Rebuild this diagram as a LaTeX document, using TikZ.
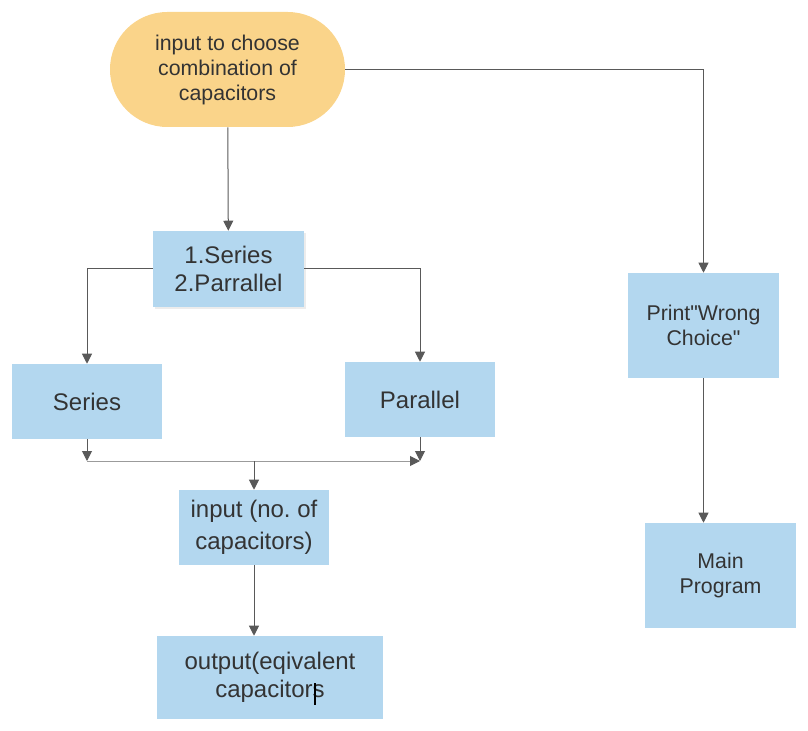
\documentclass[tikz,border=0pt]{standalone}
\usepackage{fontspec}
\setmainfont{Liberation Sans}
\usepackage{xcolor}
\usepackage{tikz}
\usetikzlibrary{arrows.meta,shadows}
\frenchspacing

\definecolor{boxblue}{HTML}{B3D7EF}
\definecolor{startorange}{HTML}{FAD48A}
\definecolor{textgray}{HTML}{333333}
\definecolor{linegray}{HTML}{595959}

\begin{document}
\begin{tikzpicture}[
    x=0.75pt, y=-0.75pt,
    box/.style={
        rectangle,
        fill=boxblue,
        align=center,
        text=textgray,
        inner sep=0pt,
        minimum width=112.5pt,
        minimum height=56.25pt,
        font=\fontsize{18}{21}\selectfont
    },
    smallbox/.style={box, font=\fontsize{16}{18.75}\selectfont},
    conn/.style={draw=linegray, line width=0.75pt, -{Triangle[length=7.5pt,width=7.5pt]}}
]
\useasboundingbox (0,0) rectangle (808,731);

\node[smallbox, fill=startorange, rounded corners=43pt, minimum width=176.25pt, minimum height=86.25pt] (start) at (227.5,69.5) {input to choose\\combination of\\capacitors};
\node[box, minimum width=113.25pt, minimum height=57pt, drop shadow={shadow xshift=1.5pt, shadow yshift=-1.5pt, opacity=0.15}] (choice) at (228.5,269) {1.Series\\2.Parrallel};
\node[box] (series) at (87,401.5) {Series};
\node[box] (parallel) at (420,399.5) {Parallel};
\node[box, font=\fontsize{18}{24}\selectfont] (incap) at (254,527.5) {input (no. of\\capacitors)};
\node[box, minimum width=169.5pt, minimum height=62.25pt] (outcap) at (270,677.5) {output(eqivalent\\capacitors};
\node[smallbox, minimum width=113.25pt, minimum height=78.75pt] (wrong) at (703.5,325.5) {Print\textquotedbl Wrong\\Choice\textquotedbl};
\node[smallbox, minimum width=113.25pt, minimum height=78.75pt] (mainprog) at (720.5,575.5) {Main\\Program};

\coordinate (joinl) at (87,461);
\coordinate (joinm) at (254,461);
\coordinate (joinr) at (420,461);

\draw[conn] (start) -- (choice);
\draw[conn] (start.east) -| (wrong.north);
\draw[conn] (choice.west) -| (series.north);
\draw[conn] (choice.east) -| (parallel.north);
\draw[conn] (series.south) -- (joinl);
\draw[conn] (parallel.south) -- (joinr);
\draw[conn, draw=linegray!60, -{Triangle[length=7.5pt,width=7.5pt,color=linegray]}] (joinl) -- (joinr);
\draw[conn] (joinm) -- (incap);
\draw[conn] (incap.south) -- (incap.south |- outcap.north);
\draw[conn] (wrong.south) -- (wrong.south |- mainprog.north);

% text cursor
\draw[line width=1pt] (315,683) -- (315,705);

\end{tikzpicture}
\end{document}
